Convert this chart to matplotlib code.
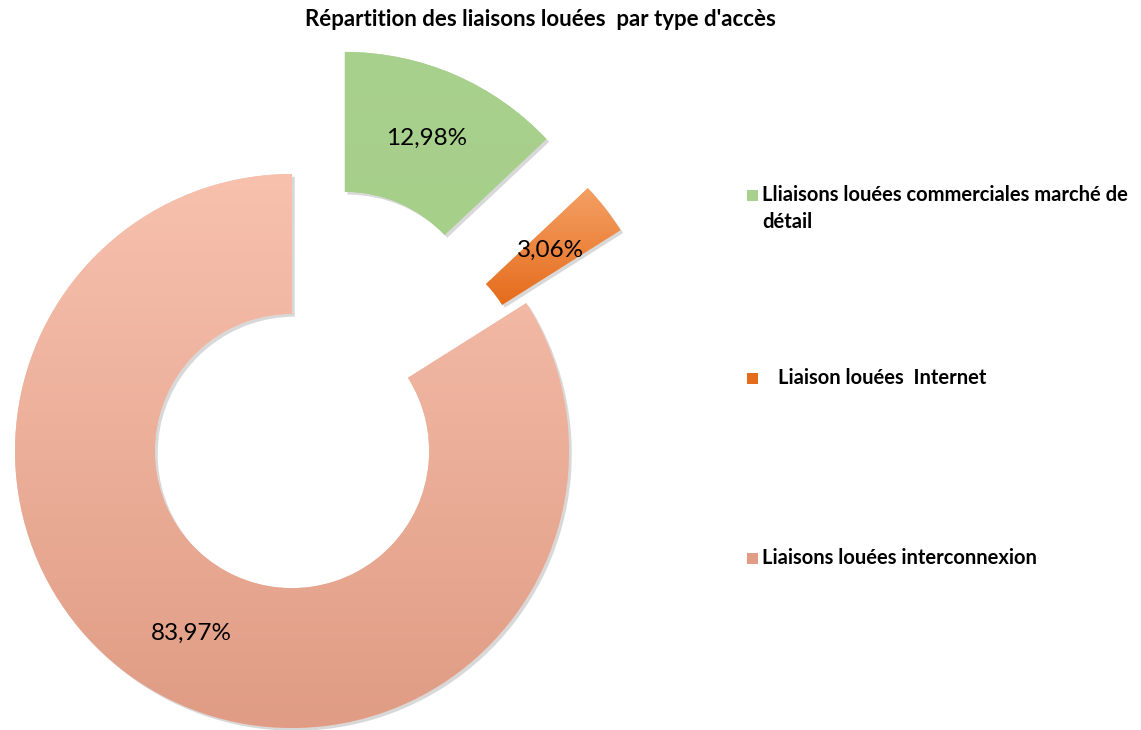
import matplotlib
matplotlib.use("Agg")
import matplotlib.pyplot as plt
import matplotlib.patheffects as pe
from matplotlib.patches import Rectangle
import numpy as np

plt.rcParams['font.family'] = ['Lato', 'DejaVu Sans']

# data
labels = ["Lliaisons louées commerciales marché de\ndétail",
          "Liaison louées  Internet",
          "Liaisons louées interconnexion"]
values = [12.98, 3.06, 83.97]
title = "Répartition des liaisons louées  par type d'accès"

# colours (top, bottom) of the gradient fill
grad = [("#A9D18E", "#A6CF8A"), ("#F4A064", "#E56C1C"), ("#F7C1AE", "#E09C84")]
explode = [0.48, 0.43, 0.0]

fig = plt.figure(figsize=(11.41, 7.30), dpi=100)
W, H = 1141, 730
ax = fig.add_axes([0, 0, 740 / W, 690 / H])

total = sum(values)
wedges, texts, autotexts = ax.pie(
    values, explode=explode, startangle=90, counterclock=False, radius=1,
    colors=[g[0] for g in grad],
    wedgeprops=dict(width=0.505, linewidth=0),
    autopct=lambda p: f"{p * total / 100:.2f}%".replace('.', ','),
    pctdistance=0.75, textprops=dict(fontsize=17.5, color='black'))

ax.set_aspect('equal')
ax.axis('off')

# gradient fill + soft shadow
for w, (c1, c2) in zip(wedges, grad):
    w.set_path_effects([pe.SimplePatchShadow(offset=(2, -2), alpha=0.25, shadow_rgbFace='#666666'),
                        pe.Normal()])
    bb = w.get_path().get_extents(w.get_transform())
    inv = ax.transData.inverted()
    (x0, y0), (x1, y1) = inv.transform([[bb.x0, bb.y0], [bb.x1, bb.y1]])
    a = np.array(matplotlib.colors.to_rgb(c1))
    b = np.array(matplotlib.colors.to_rgb(c2))
    t = np.linspace(0, 1, 200)[:, None]
    img = (a * (1 - t) + b * t)[:, None, :]
    im = ax.imshow(img, extent=[x0, x1, y0, y1], origin='upper', aspect='auto', zorder=w.get_zorder() + 0.1)
    im.set_clip_path(w)
for t in autotexts:
    t.set_zorder(5)

ax.set_xlim(-292 / 277, (740 - 292) / 277)
ax.set_ylim(-(730 - 451) / 277, (451 - 40) / 277)

fig.text(540 / W, 1 - 20 / H, title, ha='center', va='center', fontsize=16, fontweight='bold')

# legend
leg_y = [195, 378, 558]
leg_x = [762, 778, 762]
leg_col = [grad[0][0], grad[1][1], grad[2][1]]
for lab, y, x, col in zip(labels, leg_y, leg_x, leg_col):
    fig.patches.append(Rectangle((747 / W, 1 - (y + 6) / H), 11 / W, 11 / H,
                                 transform=fig.transFigure, facecolor=col, edgecolor='none'))
    if '\n' in lab:
        fig.text(x / W, 1 - (y - 10) / H, lab, ha='left', va='top',
                 fontsize=14.5, fontweight='bold', linespacing=1.45)
    else:
        fig.text(x / W, 1 - y / H, lab, ha='left', va='center',
                 fontsize=14.5, fontweight='bold')

fig.savefig("out.png", dpi=100)
